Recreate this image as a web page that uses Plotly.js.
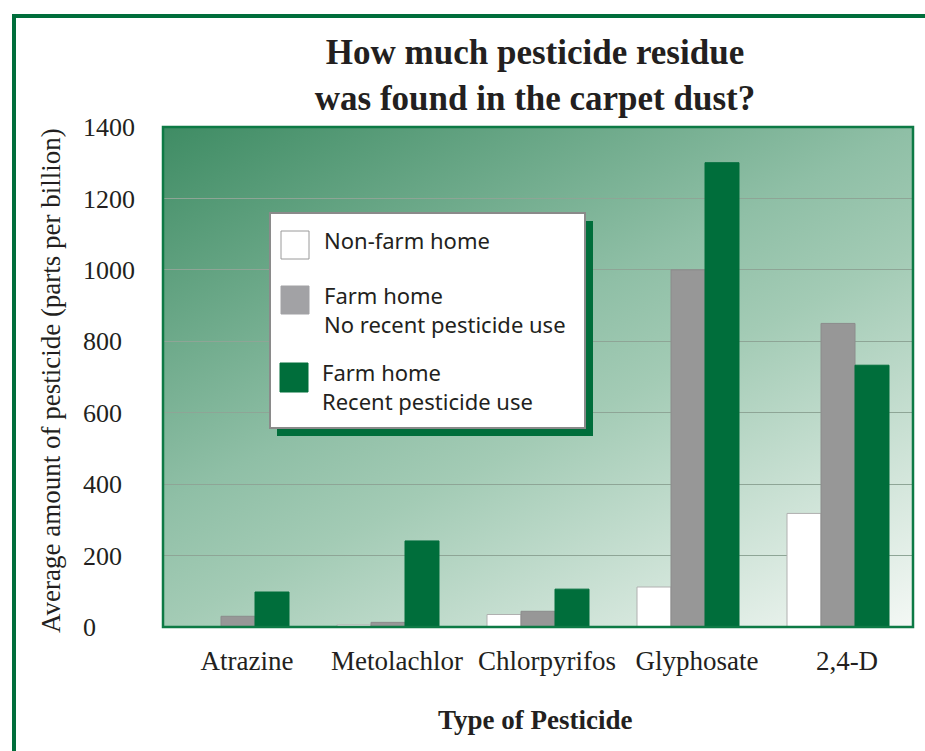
<!DOCTYPE html>
<html><head><meta charset="utf-8">
<script src="https://cdn.plot.ly/plotly-3.0.1.min.js"></script>
<style>html,body{margin:0;padding:0;background:#fff}</style>
</head><body><div id="chart" style="width:925px;height:751px"></div>
<script>
// ---- data ----
const categories = ['Atrazine', 'Metolachlor', 'Chlorpyrifos', 'Glyphosate', '2,4-D'];
const nonFarm = [1, 6, 35, 112, 318];
const farmNoRecent = [30, 13, 44, 1000, 850];
const farmRecent = [98, 241, 106, 1300, 733];
const seriesNames = ['Non-farm home', 'Farm home<br>No recent pesticide use', 'Farm home<br>Recent pesticide use'];
const yTicks = [0, 200, 400, 600, 800, 1000, 1200, 1400];
const chartTitle = 'How much pesticide residue<br>was found in the carpet dust?';
const xTitle = 'Type of Pesticide';
const yTitle = 'Average amount of pesticide (parts per billion)';

// ---- style ----
const W = 925, H = 751;
const px = x => x / W;
const py = y => 1 - y / H;
const GREEN = '#006e3b';
const GRAY = '#979797';
const INK = '#231f20';
const serif = 'Liberation Serif, DejaVu Serif, serif';
const sans = 'Noto Sans, DejaVu Sans, sans-serif';

function gradientURI() {
  const c = document.createElement('canvas');
  c.width = 750; c.height = 500;
  const g = c.getContext('2d');
  const lg = g.createLinearGradient(0, 0, 350, 700);
  lg.addColorStop(0, '#3f8c64');
  lg.addColorStop(0.43, '#8fbfa6');
  lg.addColorStop(0.57, '#a3cbb5');
  lg.addColorStop(1, '#f4f8f5');
  g.fillStyle = lg;
  g.fillRect(0, 0, 750, 500);
  return c.toDataURL('image/png');
}

const colors = ['#ffffff', GRAY, GREEN];
const lineColors = ['#b0b0b0', '#8c8c8c', GREEN];
const series = [nonFarm, farmNoRecent, farmRecent];
const traces = series.map((vals, i) => ({
  type: 'bar', x: categories, y: vals, name: seriesNames[i],
  marker: {color: colors[i], line: {color: lineColors[i], width: 1}},
  showlegend: false, hoverinfo: 'x+y+name'
}));

// legend (drawn box with shadow)
const legendRows = [
  {sw: [281, 231, 309, 259], ty: 240},
  {sw: [281, 286, 309, 314], ty: 309},
  {sw: [280, 363, 308, 392], ty: 387}
];
const shapes = [
  // outer frame
  {type: 'line', xref: 'paper', yref: 'paper', x0: px(12), x1: px(925), y0: py(16), y1: py(16), line: {color: GREEN, width: 4}},
  {type: 'line', xref: 'paper', yref: 'paper', x0: px(14), x1: px(14), y0: py(14), y1: py(751), line: {color: GREEN, width: 4}},
  // plot border
  {type: 'rect', xref: 'x domain', yref: 'y domain', x0: 0, x1: 1, y0: 0, y1: 1, line: {color: '#0d7a45', width: 2.5}, layer: 'above'},
  // legend shadow + box
  {type: 'rect', xref: 'paper', yref: 'paper', x0: px(277), x1: px(593), y0: py(221), y1: py(436), fillcolor: GREEN, line: {width: 0}, layer: 'above'},
  {type: 'rect', xref: 'paper', yref: 'paper', x0: px(270), x1: px(585), y0: py(213), y1: py(428), fillcolor: '#ffffff', line: {color: '#8a8a8a', width: 2}, layer: 'above'}
];
const swatchFill = ['#ffffff', '#a2a2a5', GREEN];
const swatchLine = ['#9a9a9a', '#a2a2a5', GREEN];
legendRows.forEach((r, i) => {
  shapes.push({type: 'rect', xref: 'paper', yref: 'paper', x0: px(r.sw[0]), x1: px(r.sw[2]), y0: py(r.sw[1]), y1: py(r.sw[3]),
    fillcolor: swatchFill[i], line: {color: swatchLine[i], width: 1}, layer: 'above'});
});

const annotations = [
  {text: yTitle, xref: 'paper', yref: 'paper', x: px(51), y: py(381), textangle: -90, showarrow: false,
   font: {family: serif, size: 27, color: INK}, xanchor: 'center', yanchor: 'middle'},
  {text: '<b>' + xTitle + '</b>', xref: 'paper', yref: 'paper', x: px(535), y: py(720), showarrow: false,
   font: {family: serif, size: 27, color: INK}, xanchor: 'center', yanchor: 'middle'}
];
legendRows.forEach((r, i) => {
  annotations.push({text: seriesNames[i], xref: 'paper', yref: 'paper', x: px(i === 2 ? 320 : 322), y: py(r.ty),
    showarrow: false, xanchor: 'left', yanchor: 'middle', align: 'left',
    font: {family: sans, size: 22, color: INK}});
});

const layout = {
  width: W, height: H,
  margin: {l: 0, r: 0, t: 0, b: 0},
  paper_bgcolor: '#ffffff', plot_bgcolor: 'rgba(0,0,0,0)',
  title: {text: '<b>' + chartTitle + '</b>', x: px(535), xref: 'paper', y: py(64), yref: 'paper',
    xanchor: 'center', yanchor: 'middle', font: {family: serif, size: 35, color: INK}},
  barmode: 'group', bargap: 0.32, bargroupgap: 0,
  xaxis: {domain: [px(163), px(913)], type: 'category', range: [-0.5, 4.5], showgrid: false, zeroline: false,
    showline: false, ticks: '', tickfont: {family: serif, size: 27, color: INK}, ticklabelstandoff: 15, ticklabelshift: 9},
  yaxis: {domain: [py(627), py(127)], range: [0, 1400], anchor: 'free', side: 'right', position: px(82),
    tickvals: yTicks, ticks: '', showline: false, zeroline: false, showgrid: true,
    gridcolor: '#8ea596', gridwidth: 1, tickfont: {family: serif, size: 26, color: INK}},
  images: [{source: gradientURI(), xref: 'paper', yref: 'paper', x: px(163), y: py(127),
    sizex: px(913) - px(163), sizey: py(127) - py(627), sizing: 'stretch', xanchor: 'left', yanchor: 'top', layer: 'below'}],
  shapes: shapes,
  annotations: annotations
};

Plotly.newPlot('chart', traces, layout, {displayModeBar: false, staticPlot: true});
</script>
</body></html>
